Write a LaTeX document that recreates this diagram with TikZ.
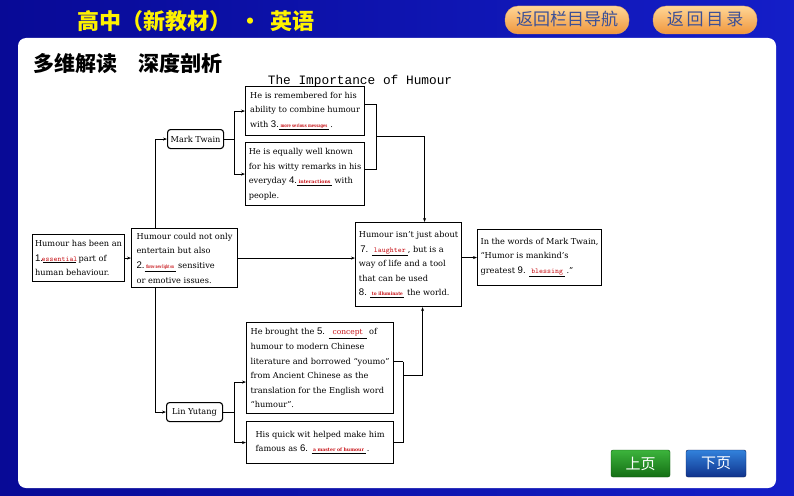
\documentclass[tikz,border=0pt]{standalone}
\usepackage{fontspec}
\usetikzlibrary{arrows.meta,calc}
\newfontfamily\cjk{Noto Sans CJK SC}
\newfontfamily\numfont{Liberation Sans}
\newfontfamily\titlemono{Liberation Mono}
\newfontfamily\boxfont{DejaVu Serif}
\definecolor{ansred}{RGB}{200,20,25}
\definecolor{bgdark}{RGB}{8,10,150}
\definecolor{bglight}{RGB}{20,30,200}
\definecolor{btntxt}{RGB}{60,80,150}
\newcommand\numf{\numfont\fontsize{9.6}{9.6}\selectfont}
\newcommand\blk[2]{\underline{\makebox[#1][c]{\textcolor{ansred}{#2}}}}
\newcommand\blks[2]{\underline{\makebox[#1][c]{\textcolor{ansred}{\resizebox{\dimexpr#1-3pt\relax}{3.6pt}{\bfseries #2}}}}}
\newcommand\ttans[1]{{\ttfamily\fontsize{7.5}{7.5}\selectfont #1}}
\begin{document}
\begin{tikzpicture}[x=1pt,y=-1pt,
  box/.style={draw, line width=1.1pt, inner sep=2.5pt, align=left, anchor=north west,
    font=\boxfont\fontsize{8.2}{14.6}\selectfont},
  rbox/.style={box, rounded corners=3pt},
  arr/.style={line width=0.7pt, -{Stealth[length=4pt,width=3pt]}},
  ln/.style={line width=0.7pt},
  obtn/.style={rounded corners=13pt, top color={rgb,255:red,255;green,214;blue,150}, bottom color={rgb,255:red,240;green,150;blue,60}, draw={rgb,255:red,230;green,170;blue,100}},
]
\useasboundingbox (0,0) rectangle (794,495);
\shade[left color=bgdark, right color=bglight] (0,0) rectangle (794,495);
% header
\node[anchor=west, text=yellow, font=\cjk\bfseries\fontsize{22}{22}\selectfont, inner sep=0] (hdr) at (77,21) {高中（新教材）\hspace{0.4em}・\hspace{0.4em}英语};
\path[obtn] (505,6) rectangle (629,34);
\node[text=btntxt, font=\cjk\fontsize{17}{17}\selectfont] (b1) at (567,19) {返回栏目导航};
\path[obtn] (653,6) rectangle (757,34);
\node[text=btntxt, font=\cjk\fontsize{17}{17}\selectfont] (b2) at (705,19) {返\,回\,目\,录};
% panel
\fill[white, rounded corners=8pt] (18,38) rectangle (776,488);
\node[anchor=west, font=\cjk\bfseries\fontsize{21}{21}\selectfont, inner sep=0] (sec) at (33,64) {多维解读　深度剖析};
\node[font=\titlemono\fontsize{12.8}{12.8}\selectfont, inner sep=0] (ttl) at (360,81) {The Importance of Humour};
% boxes
\node[box, minimum width=91pt, minimum height=47pt] (A) at (32,234)
 {Humour has been an\\{\numf 1.}\blk{33pt}{\ttans{essential}} part of\\human behaviour.};
\node[box, minimum width=106pt, minimum height=59pt] (B) at (131,228)
 {Humour could not only\\entertain but also\\{\numf 2.}\blks{31pt}{throw new light on} sensitive\\or emotive issues.};
\node[rbox, minimum width=56pt, minimum height=19pt, align=center] (MT) at (167,129) {Mark Twain};
\node[box, minimum width=119pt, minimum height=49pt] (C1) at (245,86)
 {He is remembered for his\\ability to combine humour\\with {\numf 3.}\blks{50pt}{more serious messages}\,.};
\node[box, minimum width=119pt, minimum height=63pt] (C2) at (245,142)
 {He is equally well known\\for his witty remarks in his\\everyday {\numf 4.}\blks{35pt}{interactions} with\\people.};
\node[box, minimum width=106pt, minimum height=84pt] (D) at (355,222)
 {Humour isn’t just about\\\,{\numf 7.} \blk{36pt}{\ttans{laughter}}, but is a\\way of life and a tool\\that can be used\\{\numf 8.} \blks{34pt}{to illuminate} the world.};
\node[box, minimum width=124pt, minimum height=56pt] (E) at (477,229)
 {In the words of Mark Twain,\\“Humor is mankind’s\\greatest {\numf 9.} \blk{36pt}{\ttans{blessing}}\,.”};
\node[rbox, minimum width=56pt, minimum height=19pt, align=center] (LY) at (166,402) {Lin Yutang};
\node[box, minimum width=147pt, minimum height=91pt] (F) at (246,322)
 {He brought the {\numf 5.} \blk{38pt}{\fontsize{7.5}{7.5}\selectfont concept} of\\humour to modern Chinese\\literature and borrowed “youmo”\\from Ancient Chinese as the\\translation for the English word\\“humour”.};
\node[box, minimum width=147pt, minimum height=42pt] (G) at (246,421)
 {His quick wit helped make him\\famous as {\numf 6.} \blks{54pt}{a master of humour}\,.};
% connectors
\draw[arr] (A.east) -- (A.east -| B.west);
\draw[arr] ([xshift=24pt]B.north west) |- (MT.west);
\draw[ln] (MT.east) -- ++(10,0) coordinate (mj);
\draw[arr] (mj) |- (C1.west);
\draw[arr] (mj) |- (C2.west);
\draw[ln] ([yshift=7pt]C1.east) -- ++(11,0) coordinate (c1b);
\draw[ln] ([yshift=4.5pt]C2.east) -- ++(11,0) coordinate (c2b);
\draw[ln] (c1b) -- (c2b);
\draw[arr] ($(c1b)!0.5!(c2b)$) -| ([xshift=16pt]D.north);
\draw[arr] (B.east) -- (B.east -| D.west);
\draw[arr] (E.west -| D.east) -- (E.west);
\draw[arr] ([xshift=24pt]B.south west) |- (LY.west);
\draw[ln] (LY.east) -- ++(11,0) coordinate (lj);
\draw[arr] (lj) |- ([yshift=-14pt]F.west);
\draw[arr] (lj) |- (G.west);
\draw[ln] ([yshift=6.5pt]F.east) -- ++(9,0) coordinate (fb);
\draw[ln] (G.east) -- ++(9,0) coordinate (gb);
\draw[ln] (fb) -- (gb);
\draw[arr] ($(fb)+(0,14)$) -| ([xshift=14pt]D.south);
% page buttons
\path[rounded corners=2pt, top color={rgb,255:red,60;green,180;blue,60}, bottom color={rgb,255:red,20;green,110;blue,20}, draw={rgb,255:red,10;green,80;blue,10}] (611,450) rectangle (670,477);
\node[text=white, font=\cjk\fontsize{15}{15}\selectfont] (prev) at (640.5,463.5) {上页};
\path[rounded corners=2pt, top color={rgb,255:red,50;green,130;blue,220}, bottom color={rgb,255:red,15;green,50;blue,140}, draw={rgb,255:red,10;green,30;blue,90}] (686,450) rectangle (746,477);
\node[text=white, font=\cjk\fontsize{15}{15}\selectfont] (next) at (716,463.5) {下页};
\end{tikzpicture}
\end{document}
